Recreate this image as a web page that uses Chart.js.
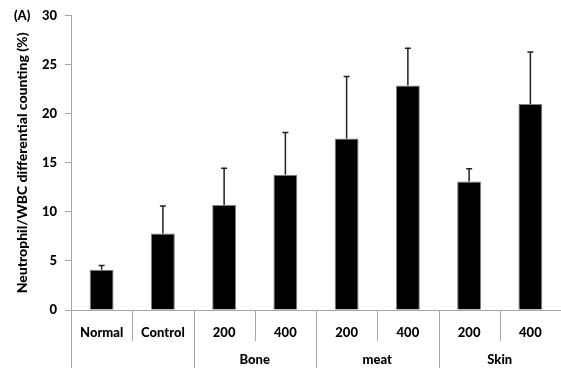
<!DOCTYPE html>
<html>
<head>
<meta charset="utf-8">
<script src="https://cdn.jsdelivr.net/npm/chart.js@4"></script>
<style>
html, body { margin: 0; padding: 0; background: #fff; }
#wrap { width: 561px; height: 368px; }
</style>
</head>
<body>
<div id="wrap"><canvas id="myChart"></canvas></div>
<script>
const doses = ['Normal', 'Control', '200', '400', '200', '400', '200', '400'];
const groups = ['Bone', 'meat', 'Skin'];
const groupStart = [2, 4, 6];
const means = [4.1, 7.8, 10.7, 13.8, 17.5, 22.9, 13.1, 21.0];
const errors = [0.45, 2.8, 3.75, 4.3, 6.3, 3.8, 1.3, 5.3];
const yTicks = [0, 5, 10, 15, 20, 25, 30];

const FONT = 'Lato, "Liberation Sans", sans-serif';
const WEIGHT = '900';
const AXIS_GREY = '#a6a6a6';
const TEXT = '#000';

// upper error bar with a short cap on top of every bar
const errorBars = {
    id: 'errorBars',
    afterDatasetsDraw(chart) {
        const ctx = chart.ctx;
        const y = chart.scales.y;
        const meta = chart.getDatasetMeta(0);
        ctx.save();
        ctx.strokeStyle = '#222';
        ctx.lineWidth = 1.5;
        meta.data.forEach((bar, i) => {
            const top = y.getPixelForValue(means[i] + errors[i]);
            ctx.beginPath();
            ctx.moveTo(bar.x, bar.y);
            ctx.lineTo(bar.x, top);
            ctx.moveTo(bar.x - 3, top);
            ctx.lineTo(bar.x + 3, top);
            ctx.stroke();
        });
        ctx.restore();
    }
};

// separators between categories and the second row of group names
const groupAxis = {
    id: 'groupAxis',
    afterDraw(chart) {
        const ctx = chart.ctx;
        const x = chart.scales.x;
        const base = chart.chartArea.bottom;
        const bottom = chart.height;
        ctx.save();
        ctx.strokeStyle = AXIS_GREY;
        ctx.lineWidth = 1;
        for (let i = 0; i <= doses.length; i++) {
            const px = Math.round(x.getPixelForValue(i - 0.5)) + 0.5;
            const long = i === 0 || i === doses.length || groupStart.includes(i);
            ctx.beginPath();
            ctx.moveTo(px, base);
            ctx.lineTo(px, long ? bottom : base + 31);
            ctx.stroke();
        }
        ctx.fillStyle = TEXT;
        ctx.font = WEIGHT + ' 13px ' + FONT;
        ctx.textAlign = 'center';
        ctx.textBaseline = 'middle';
        groups.forEach((name, g) => {
            const cx = x.getPixelForValue(groupStart[g] + 0.5);
            ctx.fillText(name, cx, base + 50);
        });
        ctx.textAlign = 'left';
        ctx.fillText('(A)', 14, 16);
        ctx.restore();
    }
};

const ctx = document.getElementById('myChart').getContext('2d');
const myChart = new Chart(ctx, {
    type: 'bar',
    data: {
        labels: doses,
        datasets: [{
            data: means,
            backgroundColor: '#000',
            borderColor: '#808080',
            borderWidth: 1,
            barPercentage: 0.39,
            categoryPercentage: 1.0
        }]
    },
    options: {
        responsive: true,
        maintainAspectRatio: false,
        animation: false,
        layout: { padding: { top: 15, right: 0, left: 0, bottom: 0 } },
        plugins: {
            legend: { display: false },
            tooltip: { enabled: false }
        },
        scales: {
            x: {
                grid: { display: false },
                border: { color: AXIS_GREY },
                ticks: {
                    color: TEXT,
                    font: { family: FONT, size: 13, weight: WEIGHT },
                    padding: 7,
                    maxRotation: 0,
                    autoSkip: false
                },
                afterFit(scale) { scale.height = 58; }
            },
            y: {
                min: 0,
                max: 30,
                afterBuildTicks(scale) {
                    scale.ticks = yTicks.map(v => ({ value: v }));
                },
                grid: {
                    drawOnChartArea: false,
                    drawTicks: true,
                    tickLength: 6,
                    color: AXIS_GREY
                },
                border: { color: AXIS_GREY },
                ticks: {
                    color: TEXT,
                    font: { family: FONT, size: 13, weight: WEIGHT },
                    padding: 8
                },
                title: {
                    display: true,
                    text: 'Neutrophil/WBC differential counting (%)',
                    color: TEXT,
                    font: { family: FONT, size: 14, weight: WEIGHT },
                    padding: { top: 14, bottom: 0 }
                },
                afterFit(scale) { scale.width = 71; }
            }
        }
    },
    plugins: [errorBars, groupAxis]
});
</script>
</body>
</html>
